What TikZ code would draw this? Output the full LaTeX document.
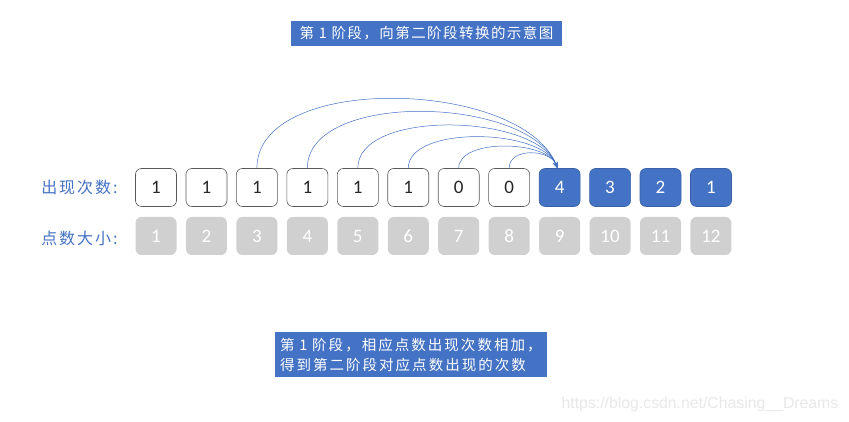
\documentclass[tikz,border=0pt]{standalone}
\usepackage{fontspec}
\usetikzlibrary{arrows.meta}
\newfontfamily\cjk{Noto Sans CJK SC}
\newfontfamily\cjkwide[LetterSpace=10]{Noto Sans CJK SC}
\newfontfamily\cjknote[LetterSpace=14]{Noto Sans CJK SC}
\newfontfamily\cjklbl[LetterSpace=12]{Noto Sans CJK SC}
\newfontfamily\numf{Carlito}
\newfontfamily\wmf{Liberation Sans}
\definecolor{myblue}{HTML}{4472C4}
\definecolor{boxgray}{HTML}{D0D0D0}
\definecolor{edgegray}{HTML}{595959}
\begin{document}
\begin{tikzpicture}[x=1pt,y=1pt,
  cnt/.style={draw=edgegray, line width=0.6pt, fill=white, rounded corners=6pt,
    minimum width=41pt, minimum height=38pt, inner sep=0pt, text=black!85,
    font=\numf\fontsize{19}{22}\selectfont},
  cntb/.style={cnt, draw=myblue!85!black, fill=myblue, text=white},
  pts/.style={fill=boxgray, rounded corners=6pt, minimum width=41pt, minimum height=38pt,
    inner sep=0pt, text=white, font=\numf\fontsize{19}{22}\selectfont},
  lbl/.style={anchor=east, text=myblue, font=\cjklbl\fontsize{16}{18}\selectfont},
  banner/.style={fill=myblue, text=white, inner sep=0pt},
  arc/.style={myblue, line width=0.5pt, -{Stealth[length=6pt,width=4.5pt]}}
]
\useasboundingbox (0,0) rectangle (849,422);
\fill[white] (0,0) rectangle (849,422);

\node[banner, minimum width=271pt, minimum height=25pt,
  font=\cjkwide\fontsize{14.5}{20}\selectfont] (title) at (426.5,388.5)
  {第 1 阶段，向第二阶段转换的示意图};

\node[lbl] (l1) at (121,234.5) {出现次数:};
\node[lbl] (l2) at (121,184) {点数大小:};

\foreach \i/\v in {1/1,2/1,3/1,4/1,5/1,6/1,7/0,8/0} {
  \node[cnt] (b\i) at ({156+(\i-1)*50.45},234.5) {\v};
}
\foreach \i/\v in {9/4,10/3,11/2,12/1} {
  \node[cntb] (b\i) at ({156+(\i-1)*50.45},234.5) {\v};
}
\foreach \i in {1,...,12} {
  \node[pts] (p\i) at ({156+(\i-1)*50.45},186) {\i};
}

\coordinate (tgt) at ([xshift=-2pt]b9.north);
\foreach \i/\l in {3/0.82,4/0.8,5/0.76,6/0.74,7/0.78,8/1.1} {
  \draw[arc] (b\i.north) to[out=90,in=112,looseness=\l] (tgt);
}

\node[banner, minimum width=272pt, minimum height=45pt, align=left, text width=262pt,
  font=\cjknote\fontsize{14.5}{20}\selectfont]
  (note) at (411,67.5)
  {第 1 阶段，相应点数出现次数相加，\\得到第二阶段对应点数出现的次数};

\node[text=black!9, font=\wmf\fontsize{15.8}{18}\selectfont] (wm) at (700,18)
  {https://blog.csdn.net/Chasing\_\_Dreams};
\end{tikzpicture}
\end{document}
